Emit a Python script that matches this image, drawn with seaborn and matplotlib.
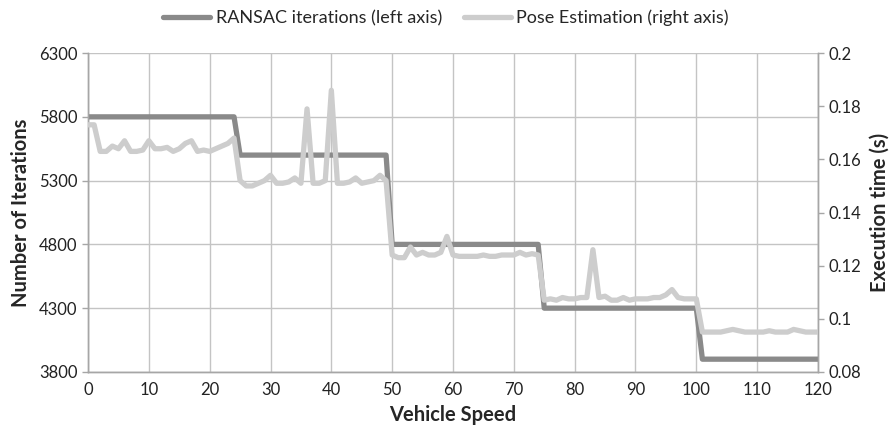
import matplotlib
matplotlib.use("Agg")
import matplotlib.pyplot as plt
import numpy as np
import pandas as pd
import seaborn as sns

# Data
speed = list(range(0, 121))

# RANSAC iterations: step levels and how many speed samples each level lasts
ransac_levels = [5800, 5500, 4800, 4300, 3900]
ransac_counts = [25, 25, 25, 26, 20]

# Pose estimation execution time (s), one value per speed 0..120
pose_time = [
    0.173, 0.173, 0.163, 0.163, 0.165, 0.164, 0.167, 0.163, 0.163, 0.1635,
    0.167, 0.164, 0.164, 0.1645, 0.163, 0.164, 0.166, 0.167, 0.163, 0.1635,
    0.163, 0.164, 0.165, 0.166, 0.168, 0.152, 0.150, 0.150, 0.151, 0.152,
    0.154, 0.151, 0.151, 0.1515, 0.153, 0.151, 0.179, 0.151, 0.151, 0.152,
    0.186, 0.151, 0.151, 0.1515, 0.153, 0.151, 0.1515, 0.152, 0.154, 0.152,
    0.124, 0.123, 0.123, 0.127, 0.124, 0.125, 0.124, 0.124, 0.125, 0.131,
    0.124, 0.1235, 0.1235, 0.1235, 0.1235, 0.124, 0.1235, 0.1235, 0.124, 0.124,
    0.124, 0.125, 0.124, 0.1245, 0.124, 0.107, 0.1075, 0.107, 0.108, 0.1075,
    0.1075, 0.108, 0.108, 0.126, 0.108, 0.1085, 0.107, 0.107, 0.108, 0.107,
    0.1075, 0.1075, 0.1075, 0.108, 0.108, 0.109, 0.111, 0.108, 0.1075, 0.1075,
    0.1075, 0.095, 0.095, 0.095, 0.095, 0.0955, 0.096, 0.0955, 0.095, 0.095,
    0.095, 0.095, 0.0955, 0.095, 0.095, 0.095, 0.096, 0.0955, 0.095, 0.095,
    0.095,
]

x_ticks = list(range(0, 121, 10))
left_ticks = [3800, 4300, 4800, 5300, 5800, 6300]
right_ticks = [0.08, 0.1, 0.12, 0.14, 0.16, 0.18, 0.2]
right_labels = ["0.08", "0.1", "0.12", "0.14", "0.16", "0.18", "0.2"]

df = pd.DataFrame({
    "speed": speed,
    "ransac": np.repeat(ransac_levels, ransac_counts),
    "pose": pose_time,
})

sns.set_style("white")
plt.rcParams["font.family"] = ["Lato", "DejaVu Sans"]

fig, ax = plt.subplots(figsize=(8.92, 4.28), dpi=100)
fig.subplots_adjust(left=0.0987, right=0.917, top=0.876, bottom=0.131)
ax2 = ax.twinx()

dark = "#8a8a8a"
light = "#cdcdcd"
grid_c = "#c4c4c4"

sns.lineplot(data=df, x="speed", y="ransac", ax=ax, color=dark, linewidth=3.8,
             label="RANSAC iterations (left axis)", legend=False, zorder=3)
sns.lineplot(data=df, x="speed", y="pose", ax=ax2, color=light, linewidth=3.8,
             label="Pose Estimation (right axis)", legend=False, zorder=3)

ax.set_xlim(0, 120)
ax.set_ylim(3800, 6300)
ax2.set_ylim(0.08, 0.2)
ax.set_xticks(x_ticks)
ax.set_yticks(left_ticks)
ax2.set_yticks(right_ticks)
ax2.set_yticklabels(right_labels)

ax.grid(True, color=grid_c, linewidth=1)
ax.set_axisbelow(True)
ax2.grid(False)

for a in (ax, ax2):
    for side in a.spines:
        a.spines[side].set_color("#a6a6a6")
        a.spines[side].set_linewidth(1)
    a.spines["top"].set_visible(False)
    a.tick_params(axis="both", colors="#222222", labelsize=12, length=4,
                  width=1, direction="out")
    a.tick_params(axis="both", color="#a6a6a6")

ax.set_xlabel("Vehicle Speed", fontsize=14.5, fontweight="bold", labelpad=5)
ax.set_ylabel("Number of Iterations", fontsize=14.5, fontweight="bold", labelpad=6)
ax2.set_ylabel("Execution time (s)", fontsize=14.5, fontweight="bold", labelpad=6)

h1, l1 = ax.get_legend_handles_labels()
h2, l2 = ax2.get_legend_handles_labels()
fig.legend(h1 + h2, l1 + l2, loc="upper center", bbox_to_anchor=(0.5, 1.015),
           ncol=2, frameon=False, fontsize=13, handlelength=2.6,
           handletextpad=0.3, columnspacing=1.2)

plt.savefig("out.png", dpi=100)
